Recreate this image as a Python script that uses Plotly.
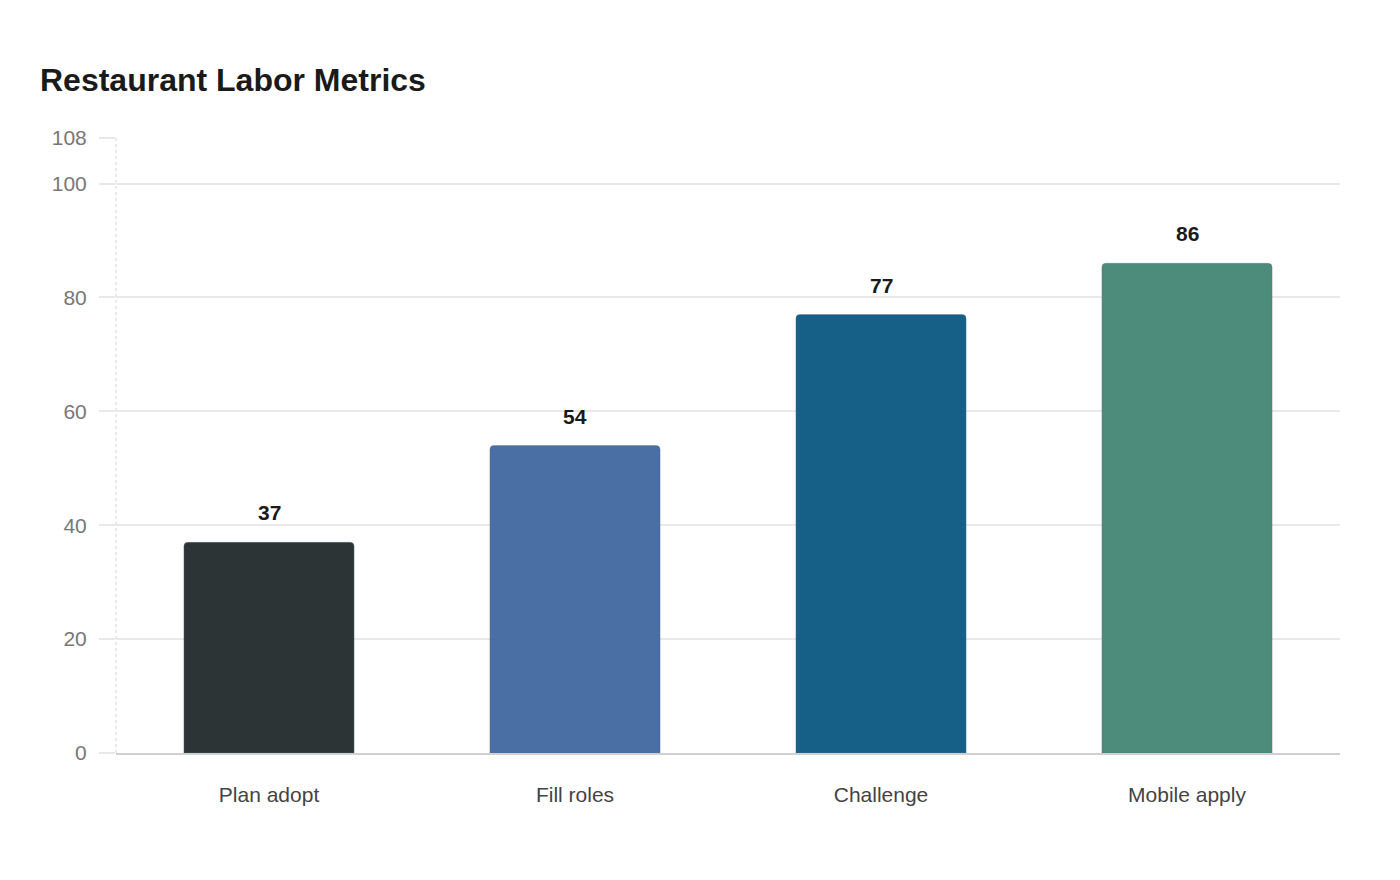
import plotly.graph_objects as go

categories = ["Plan adopt", "Fill roles", "Challenge", "Mobile apply"]
values = [37, 54, 77, 86]
bar_colors = ["#2d3436", "#4a6fa5", "#166088", "#4d8b7a"]
y_ticks = [0, 20, 40, 60, 80, 100, 108]

FONT = "Liberation Sans, Arial, sans-serif"

fig = go.Figure()
fig.add_trace(
    go.Bar(
        x=categories,
        y=values,
        marker=dict(color=bar_colors, line=dict(color="rgba(90,110,130,0.35)", width=1)),
        hoverinfo="x+y",
    )
)

# value labels sit a bit above the bars
for cat, val in zip(categories, values):
    fig.add_annotation(
        x=cat, y=val, text=f"<b>{val}</b>", showarrow=False,
        yanchor="bottom", yshift=16,
        font=dict(family=FONT, size=21, color="#1a1a1a"),
    )

# light dotted y axis line
fig.add_shape(
    type="line", xref="paper", yref="paper", x0=0, x1=0, y0=0, y1=1,
    line=dict(color="#d6d6d6", width=1, dash="dot"), layer="above",
)

fig.update_layout(
    width=1400,
    height=880,
    paper_bgcolor="white",
    plot_bgcolor="white",
    margin=dict(l=108, r=68, t=130, b=135),
    title=dict(
        text="<b>Restaurant Labor Metrics</b>",
        x=32 / 1400, xanchor="left",
        y=1 - 72 / 880, yanchor="middle",
        font=dict(family=FONT, size=32, color="#1a1a1a"),
    ),
    bargap=0.444,
    barcornerradius=4,
    showlegend=False,
    font=dict(family=FONT),
)

fig.update_xaxes(
    showgrid=False,
    showline=True, linecolor="#d0d0d0", linewidth=2,
    ticks="", tickfont=dict(family=FONT, size=21, color="#444444"),
    ticklabelstandoff=22,
)
fig.update_yaxes(
    range=[0, 108],
    tickvals=y_ticks,
    showgrid=True, gridcolor="#e8e8e8", gridwidth=1.5,
    zeroline=False,
    showline=False,
    ticks="outside", ticklen=16, tickcolor="#e8e8e8", tickwidth=1.5,
    ticklabelstandoff=8,
    tickfont=dict(family=FONT, size=21, color="#777777"),
)

fig.write_html("out.html")
